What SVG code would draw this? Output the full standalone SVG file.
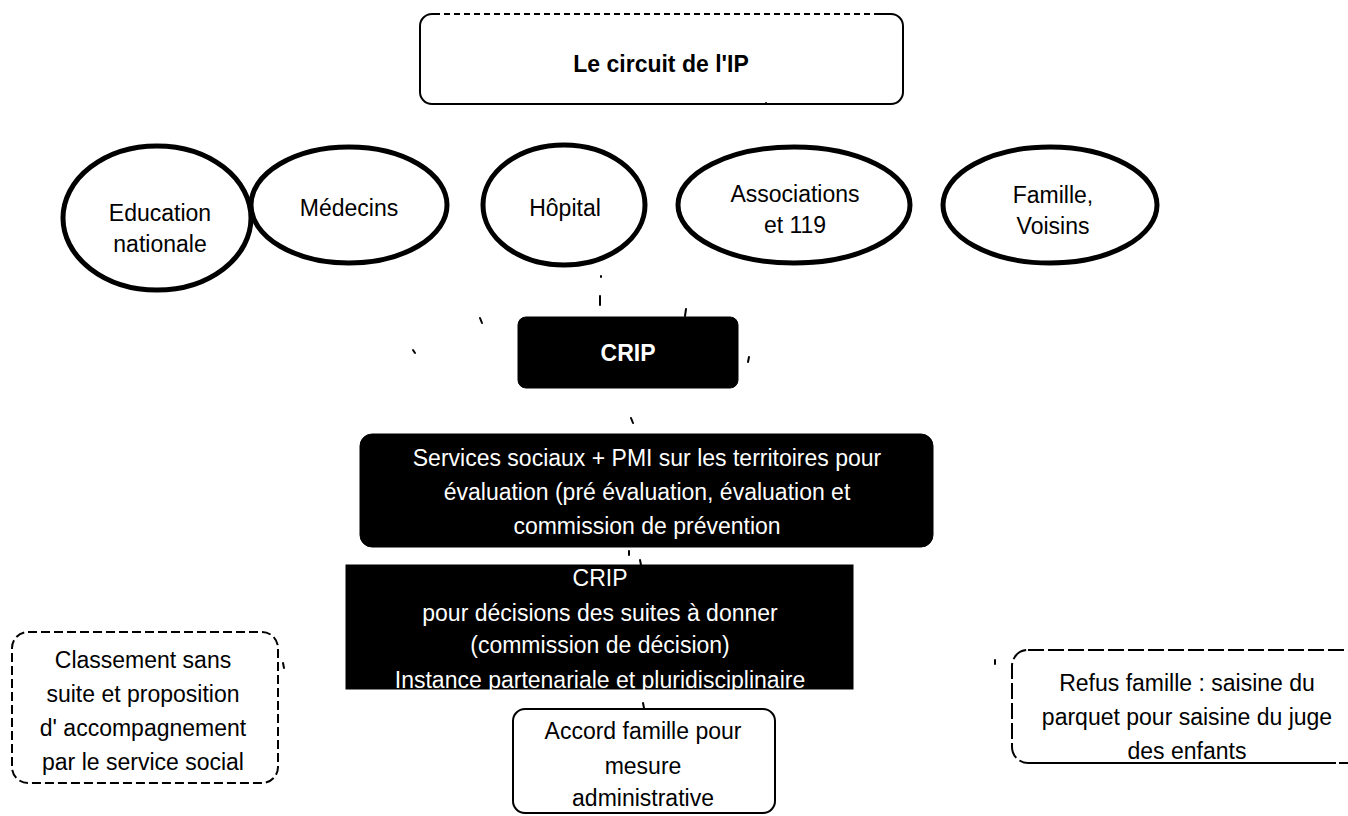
<svg xmlns="http://www.w3.org/2000/svg" width="1348" height="816" viewBox="0 0 1348 816">
<style>
.t{font-family:"Liberation Sans",Arial,sans-serif;font-size:23px;text-anchor:middle;fill:#000}
.w{fill:#fff}
.b{font-weight:bold}
.ell{fill:#fff;stroke:#000;stroke-width:5}
.box{fill:#fff;stroke:#000;stroke-width:2}
.dbox{fill:#fff;stroke:#000;stroke-width:2;stroke-dasharray:9 4}
.blk{fill:#000;stroke:#000;stroke-width:1}
.tick{stroke:#000;stroke-width:2;fill:none;stroke-linecap:round}
</style>
<rect width="1348" height="816" fill="#fff"/>
<g id="title">
<rect class="box" x="420" y="14" width="483" height="90" rx="12"/>
<line x1="440" y1="14" x2="880" y2="14" stroke="#fff" stroke-width="3" stroke-dasharray="4 6"/>
<text class="t b" x="661" y="72" font-size="24">Le circuit de l'IP</text>
</g>
<g id="education">
<ellipse class="ell" cx="157" cy="218" rx="94" ry="72"/>
<text class="t" x="160" y="221">Education</text>
<text class="t" x="160" y="252">nationale</text>
</g>
<g id="medecins">
<ellipse class="ell" cx="349" cy="205" rx="98" ry="58"/>
<text class="t" x="349" y="216">Médecins</text>
</g>
<g id="hopital">
<ellipse class="ell" cx="564" cy="205" rx="81" ry="60"/>
<text class="t" x="565" y="216">Hôpital</text>
</g>
<g id="associations">
<ellipse class="ell" cx="794" cy="205" rx="116" ry="58"/>
<text class="t" x="795" y="202">Associations</text>
<text class="t" x="795" y="233">et 119</text>
</g>
<g id="famille">
<ellipse class="ell" cx="1050" cy="205" rx="107" ry="58"/>
<text class="t" x="1053" y="203">Famille,</text>
<text class="t" x="1053" y="234">Voisins</text>
</g>
<g id="crip">
<rect class="blk" x="518" y="317" width="220" height="71" rx="8"/>
<text class="t w b" x="628" y="361" font-size="20">CRIP</text>
</g>
<g id="services">
<rect class="blk" x="360" y="434" width="573" height="113" rx="12"/>
<text class="t w" x="647" y="466">Services sociaux + PMI  sur les territoires pour</text>
<text class="t w" x="647" y="500">évaluation (pré évaluation, évaluation et</text>
<text class="t w" x="647" y="534">commission de prévention</text>
</g>
<g id="crip-decision">
<rect class="blk" x="346" y="565" width="507" height="124"/>
<text class="t w" x="600" y="586" font-size="21">CRIP</text>
<text class="t w" x="600" y="621">pour décisions des suites à donner</text>
<text class="t w" x="600" y="653">(commission de décision)</text>
<text class="t w" x="600" y="688">Instance partenariale et pluridisciplinaire</text>
</g>
<g id="classement">
<rect class="dbox" x="12" y="632" width="266" height="151" rx="16"/>
<text class="t" x="143" y="668">Classement sans</text>
<text class="t" x="143" y="702">suite et proposition</text>
<text class="t" x="143" y="736">d' accompagnement</text>
<text class="t" x="143" y="770">par le service social</text>
</g>
<g id="accord">
<rect class="box" x="513" y="709" width="262" height="104" rx="12"/>
<text class="t" x="643" y="739">Accord famille pour</text>
<text class="t" x="643" y="774">mesure</text>
<text class="t" x="643" y="806">administrative</text>
</g>
<g id="refus">
<rect class="dbox" x="1012" y="650" width="350" height="113" rx="16" style="stroke-dasharray:16 4"/>
<line x1="1030" y1="763" x2="1336" y2="763" stroke="#000" stroke-width="2"/>
<text class="t" x="1187" y="691">Refus famille : saisine du</text>
<text class="t" x="1187" y="725">parquet pour saisine du juge</text>
<text class="t" x="1187" y="759">des enfants</text>
</g>
<g id="connectors">
<path class="tick" d="M480 318 l2 5"/>
<path class="tick" d="M413 350 l2 3"/>
<path class="tick" d="M600 296 v9"/>
<path class="tick" d="M686 309 l-1 7"/>
<path class="tick" d="M749 357 l-1 5"/>
<path class="tick" d="M631 418 l2 5"/>
<path class="tick" d="M629 551 v4"/>
<path class="tick" d="M640 560 l1 5"/>
<path class="tick" d="M643 703 l1 5"/>
<path class="tick" d="M283 663 l1 5"/>
<path class="tick" d="M995 660 l0 4"/>
<path class="tick" d="M601 276 l0 1"/>
<path class="tick" d="M766 103 l0 1"/>
</g>
</svg>
